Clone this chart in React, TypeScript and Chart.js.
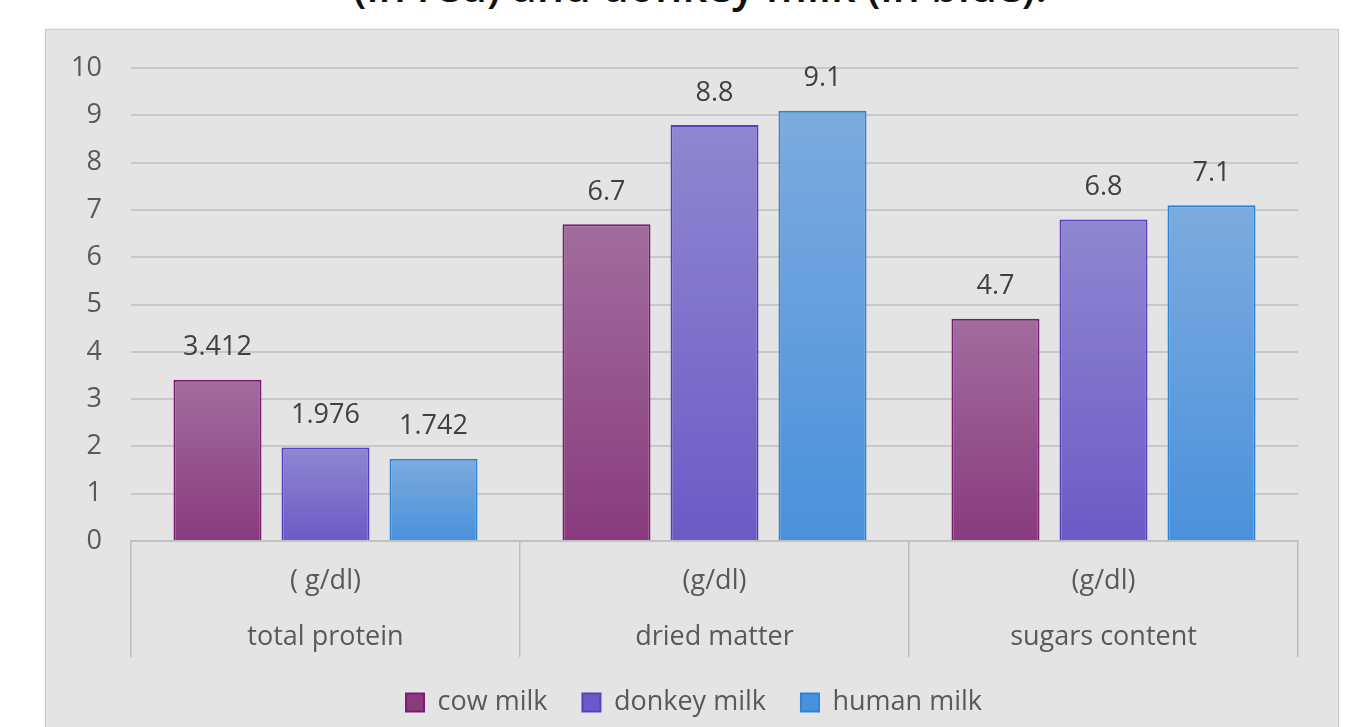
import React, { useEffect, useRef } from "react";
import { Chart, registerables } from "chart.js";

Chart.register(...registerables);

const categories: string[][] = [
  ["( g/dl)", "total protein"],
  ["(g/dl)", "dried matter"],
  ["(g/dl)", "sugars content"],
];
const seriesNames = ["cow milk", "donkey milk", "human milk"];
const cowMilk = [3.412, 6.7, 4.7];
const donkeyMilk = [1.976, 8.8, 6.8];
const humanMilk = [1.742, 9.1, 7.1];
const valueLabels = [
  ["3.412", "6.7", "4.7"],
  ["1.976", "8.8", "6.8"],
  ["1.742", "9.1", "7.1"],
];
const yTicks = [0, 1, 2, 3, 4, 5, 6, 7, 8, 9, 10];

const palette = [
  { top: "#a26c9e", bottom: "#893b7d", solid: "#98578f", border: "#7a1d6e" },
  { top: "#8f87d0", bottom: "#6d5ac6", solid: "#7f70cc", border: "#5a3fc2" },
  { top: "#7cabde", bottom: "#4a91dc", solid: "#639edd", border: "#2a85d8" },
];

const FONT = "'Open Sans', 'DejaVu Sans', sans-serif";

const makeBg = (i: number) => (ctx: any) => {
  const chart = ctx.chart;
  if (ctx.type !== "data" || !chart.chartArea || !chart.scales.y) return palette[i].solid;
  const y = chart.scales.y;
  const top = y.getPixelForValue(ctx.raw);
  const bottom = y.getPixelForValue(0);
  if (!isFinite(top) || !isFinite(bottom) || top === bottom) return palette[i].solid;
  const g = chart.ctx.createLinearGradient(0, top, 0, bottom);
  g.addColorStop(0, palette[i].top);
  g.addColorStop(1, palette[i].bottom);
  return g;
};

const valueLabelPlugin = {
  id: "valueLabels",
  afterDatasetsDraw(chart: any) {
    const c = chart.ctx;
    c.save();
    c.font = `27px ${FONT}`;
    c.fillStyle = "#404040";
    c.textAlign = "center";
    c.textBaseline = "middle";
    chart.data.datasets.forEach((_: any, di: number) => {
      const meta = chart.getDatasetMeta(di);
      meta.data.forEach((bar: any, i: number) => {
        c.fillText(valueLabels[di][i], bar.x, bar.y - 32);
      });
    });
    c.restore();
  },
};

const legendShiftPlugin = {
  id: "legendShift",
  afterLayout(chart: any) {
    if (chart.legend) {
      chart.legend.left += 22;
      chart.legend.right += 22;
    }
  },
};

export default function App() {
  const ref = useRef<HTMLCanvasElement | null>(null);

  useEffect(() => {
    if (!ref.current) return;
    const seriesData = [cowMilk, donkeyMilk, humanMilk];
    const chart = new Chart(ref.current, {
      type: "bar",
      data: {
        labels: categories,
        datasets: seriesData.map((d, i) => ({
          label: seriesNames[i],
          data: d,
          backgroundColor: makeBg(i),
          borderColor: palette[i].border,
          borderWidth: 2,
          categoryPercentage: 0.833,
          barPercentage: 0.815,
        })),
      },
      options: {
        responsive: false,
        animation: false,
        devicePixelRatio: 1,
        layout: { padding: { top: 30, right: 40, left: 0, bottom: 6 } },
        plugins: {
          tooltip: { enabled: false },
          legend: {
            position: "bottom",
            labels: {
              boxWidth: 18,
              boxHeight: 18,
              padding: 35,
              color: "#595959",
              font: { family: FONT, size: 27 },
            },
          },
        },
        scales: {
          x: {
            offset: true,
            grid: {
              offset: true,
              drawOnChartArea: false,
              drawTicks: true,
              tickLength: 116,
              color: "#bdbdbd",
              lineWidth: 1.5,
            },
            border: { display: true, color: "#bdbdbd", width: 1.5 },
            ticks: {
              padding: -104,
              color: "#595959",
              font: { family: FONT, size: 27, lineHeight: 56 / 27 },
              maxRotation: 0,
            },
            afterFit(scale: any) {
              scale.height = 113;
            },
          },
          y: {
            min: 0,
            max: 10,
            afterBuildTicks(scale: any) {
              scale.ticks = yTicks.map((v) => ({ value: v }));
            },
            grid: { color: "#c8c8c8", lineWidth: 2, drawTicks: false },
            border: { display: false },
            ticks: {
              padding: 29,
              color: "#595959",
              font: { family: FONT, size: 27 },
            },
            afterFit(scale: any) {
              scale.width = 85;
            },
          },
        },
      },
      plugins: [valueLabelPlugin, legendShiftPlugin],
    });
    return () => chart.destroy();
  }, []);

  return (
    <div
      style={{
        position: "fixed",
        left: 0,
        top: 0,
        width: 1362,
        height: 727,
        overflow: "hidden",
        background: "#ffffff",
      }}
    >
      <div
        style={{
          position: "absolute",
          left: 0,
          width: 1362,
          top: -36,
          textAlign: "center",
          fontFamily: FONT,
          fontSize: 43,
          fontWeight: 600,
          lineHeight: "43px",
          color: "#111111",
          whiteSpace: "nowrap",
          paddingLeft: 38,
          boxSizing: "border-box",
        }}
      >
        (in red) and donkey milk (in blue).
      </div>
      <div
        style={{
          position: "absolute",
          left: 45,
          top: 29,
          width: 1292,
          height: 710,
          background: "#e4e4e4",
          border: "1px solid #cdcdcd",
          boxShadow: "0 0 2px rgba(0,0,0,0.15)",
        }}
      >
        <canvas
          ref={ref}
          width={1292}
          height={709}
          style={{ display: "block", position: "relative", top: -7 }}
        />
      </div>
    </div>
  );
}
